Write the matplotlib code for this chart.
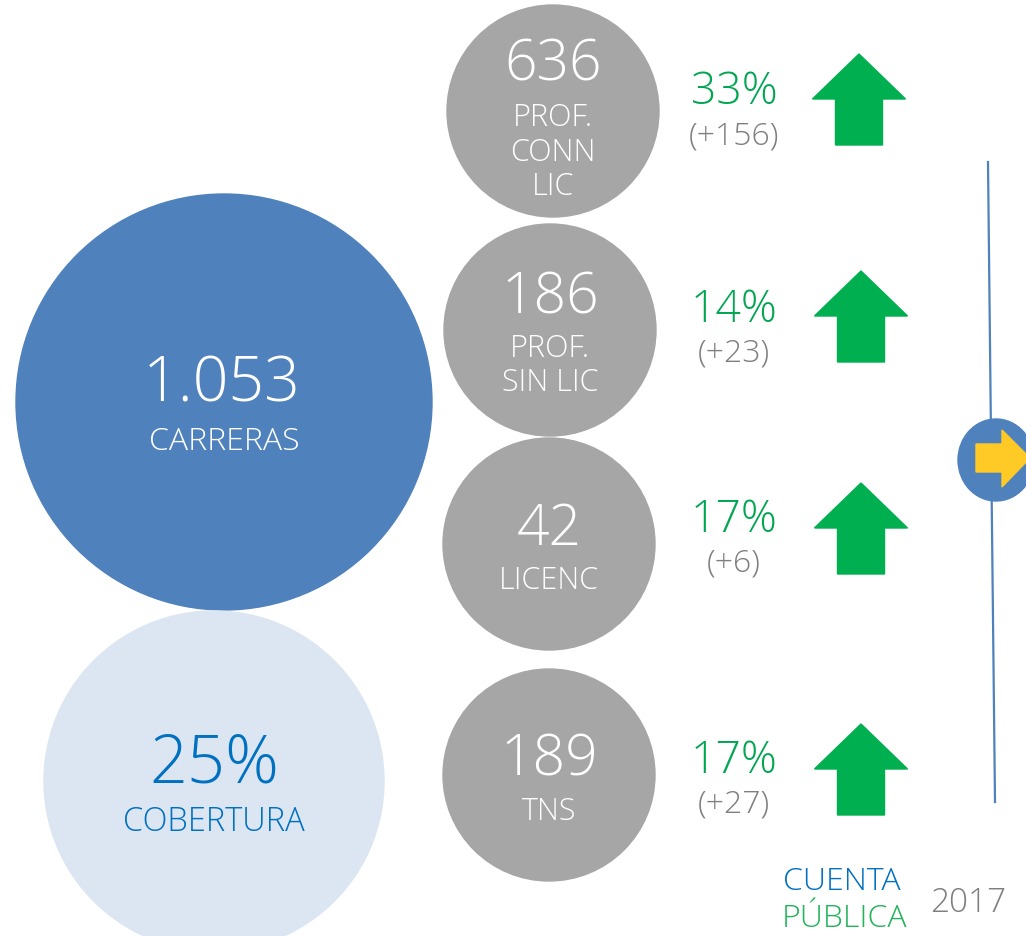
import matplotlib
matplotlib.use("Agg")
import matplotlib.pyplot as plt
from matplotlib.patches import Circle, Ellipse, Polygon
from matplotlib import font_manager

# ---- data ----
total_value = "1.053"
total_label = "CARRERAS"
coverage_value = "25%"
coverage_label = "COBERTURA"
categories = ["PROF.\nCONN\nLIC", "PROF.\nSIN LIC", "LICENC", "TNS"]
counts = [636, 186, 42, 189]
growth_pct = [33, 14, 17, 17]
growth_abs = [156, 23, 6, 27]
brand_top = "CUENTA"
brand_bottom = "PÚBLICA"
year = "2017"

# ---- style ----
fams = [f.name for f in font_manager.fontManager.ttflist]
FONT = "Open Sans" if "Open Sans" in fams else "DejaVu Sans"
plt.rcParams['font.family'] = [FONT, 'DejaVu Sans']

BLUE = "#4F81BD"
LIGHT = "#DCE6F2"
GREY = "#A6A6A6"
GREEN = "#00B050"
TGREEN = "#00A651"
TBLUE = "#0070C0"
TGREY = "#7F7F7F"
YELLOW = "#FFC926"

fig = plt.figure(figsize=(10.26, 9.37), dpi=100)
ax = fig.add_axes([0, 0, 1, 1])
ax.set_xlim(0, 1026)
ax.set_ylim(937, 0)
ax.set_aspect('equal')
ax.axis('off')

# big circles
ax.add_patch(Circle((224, 403), 208, color=BLUE, zorder=1))
ax.add_patch(Circle((214, 782), 170, color=LIGHT, zorder=1))
ax.text(222, 385, total_value, color='white', fontsize=45, fontweight='light',
        ha='center', va='center', zorder=3)
ax.text(224, 442, total_label, color='white', fontsize=23, fontweight='light',
        ha='center', va='center', zorder=3)
ax.text(214, 765, coverage_value, color=TBLUE, fontsize=48, fontweight='light',
        ha='center', va='center', zorder=3)
ax.text(214, 822, coverage_label, color=TBLUE, fontsize=23.5, fontweight='light',
        ha='center', va='center', zorder=3)

# grey circles
centers = [(553, 112), (550, 331), (549, 545), (549, 776)]
pct_y = [93, 311, 521, 762]
arrow_x = [859, 861, 861, 861]
arrow_tip = [55, 272, 484, 725]

def up_arrow(cx, top, w=93, h=91, head=45, shaft=47):
    pts = [(cx, top), (cx + w / 2, top + head), (cx + shaft / 2, top + head),
           (cx + shaft / 2, top + h), (cx - shaft / 2, top + h),
           (cx - shaft / 2, top + head), (cx - w / 2, top + head)]
    return Polygon(pts, closed=True, color=GREEN, zorder=2)

for i, (cat, n, p, a) in enumerate(zip(categories, counts, growth_pct, growth_abs)):
    cx, cy = centers[i]
    ax.add_patch(Circle((cx, cy), 106, color=GREY, zorder=1))
    nlines = cat.count("\n") + 1
    if nlines == 3:
        ny, ly = cy - 46, [cy + 6, cy + 41, cy + 75]
    elif nlines == 2:
        ny, ly = cy - 32, [cy + 18, cy + 52]
    else:
        ny, ly = cy - 15, [cy + 36]
    ax.text(cx, ny, str(n), color='white', fontsize=41, fontweight='light',
            ha='center', va='center', zorder=3)
    for line, yy in zip(cat.split("\n"), ly):
        ax.text(cx, yy, line, color='white', fontsize=22, fontweight='light',
                ha='center', va='center', zorder=3)
    ax.text(734, pct_y[i], f"{p}%", color=TGREEN, fontsize=32, fontweight='light',
            ha='center', va='center', zorder=3)
    ax.text(734, pct_y[i] + 43, f"(+{a})", color=TGREY, fontsize=23, fontweight='light',
            ha='center', va='center', zorder=3)
    ax.add_patch(up_arrow(arrow_x[i], arrow_tip[i]))

# timeline
ax.plot([988, 995], [163, 803], color=BLUE, lw=1.6, zorder=1)
ax.add_patch(Ellipse((996, 461), 76, 82, color=BLUE, zorder=2))
ya = [(976, 445), (1002, 445), (1002, 431), (1030, 459), (1002, 488),
      (1002, 473), (976, 473)]
ax.add_patch(Polygon(ya, closed=True, color=YELLOW, zorder=3))

# brand
ax.text(842, 882, brand_top, color=TBLUE, fontsize=23, fontweight='light',
        ha='center', va='center')
ax.text(845, 919, brand_bottom, color="#22B45A", fontsize=23, fontweight='light',
        ha='center', va='center')
ax.text(968, 903, year, color=TGREY, fontsize=24, fontweight='light',
        ha='center', va='center')

fig.savefig("out.png", dpi=100)
